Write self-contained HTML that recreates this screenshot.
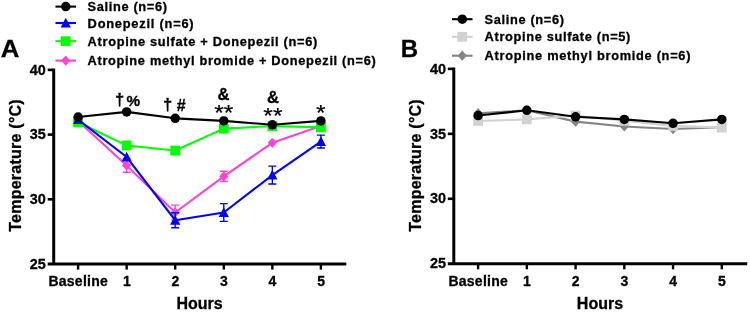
<!DOCTYPE html>
<html lang="en"><head><meta charset="utf-8"><title>Temperature</title>
<style>html,body{margin:0;padding:0;background:#fff}svg{display:block;will-change:transform}text{font-family:'Liberation Sans', Arial, Helvetica, sans-serif;font-weight:bold;fill:#000;stroke:#000;stroke-width:.3px}.ast{font-weight:normal;stroke-width:.22px}</style>
</head><body>
<svg width="750" height="312" viewBox="0 0 750 312">
<rect width="750" height="312" fill="#fff"/>
<g id="panelA">
<path d="M53.7 68.60V264.00" stroke="#000" stroke-width="3" fill="none"/>
<path d="M47.7 264.00H346.3" stroke="#000" stroke-width="3" fill="none"/>
<path d="M47.7 69.90H53.7" stroke="#000" stroke-width="2.6"/>
<text x="45.800000000000004" y="74.60" text-anchor="end" font-size="14.4">40</text>
<path d="M47.7 134.60H53.7" stroke="#000" stroke-width="2.6"/>
<text x="45.800000000000004" y="139.30" text-anchor="end" font-size="14.4">35</text>
<path d="M47.7 199.30H53.7" stroke="#000" stroke-width="2.6"/>
<text x="45.800000000000004" y="204.00" text-anchor="end" font-size="14.4">30</text>
<text x="45.800000000000004" y="268.70" text-anchor="end" font-size="14.4">25</text>
<path d="M78.10 264.00V269.60" stroke="#000" stroke-width="2.4"/>
<text x="78.25" y="285.7" text-anchor="middle" font-size="14" letter-spacing="0.26">Baseline</text>
<path d="M126.66 264.00V269.60" stroke="#000" stroke-width="2.4"/>
<text x="126.81" y="285.7" text-anchor="middle" font-size="14" letter-spacing="0">1</text>
<path d="M175.22 264.00V269.60" stroke="#000" stroke-width="2.4"/>
<text x="175.37" y="285.7" text-anchor="middle" font-size="14" letter-spacing="0">2</text>
<path d="M223.78 264.00V269.60" stroke="#000" stroke-width="2.4"/>
<text x="223.93" y="285.7" text-anchor="middle" font-size="14" letter-spacing="0">3</text>
<path d="M272.34 264.00V269.60" stroke="#000" stroke-width="2.4"/>
<text x="272.49" y="285.7" text-anchor="middle" font-size="14" letter-spacing="0">4</text>
<path d="M320.90 264.00V269.60" stroke="#000" stroke-width="2.4"/>
<text x="321.05" y="285.7" text-anchor="middle" font-size="14" letter-spacing="0">5</text>
<text x="199.50" y="309" text-anchor="middle" font-size="16">Hours</text>
<text transform="translate(21.3 165.4) rotate(-90)" text-anchor="middle" font-size="16" letter-spacing=".24">Temperature (°C)</text>
<path d="M126.66 158.58V172.25M122.66 158.58H130.66M122.66 172.25H130.66" stroke="#f944d4" stroke-width="1.35" fill="none"/>
<path d="M175.22 205.15V219.85M171.22 205.15H179.22M171.22 219.85H179.22" stroke="#f944d4" stroke-width="1.35" fill="none"/>
<path d="M223.78 171.22V181.54M219.78 171.22H227.78M219.78 181.54H227.78" stroke="#f944d4" stroke-width="1.35" fill="none"/>
<polyline points="78.10,120.91 126.66,165.42 175.22,212.50 223.78,176.38 272.34,142.84 320.90,126.07" fill="none" stroke="#f944d4" stroke-width="2.1" stroke-linejoin="round"/>
<path d="M78.10 115.81L82.70 120.91L78.10 126.01L73.50 120.91Z" fill="#f944d4"/>
<path d="M126.66 160.32L131.26 165.42L126.66 170.52L122.06 165.42Z" fill="#f944d4"/>
<path d="M175.22 207.40L179.82 212.50L175.22 217.60L170.62 212.50Z" fill="#f944d4"/>
<path d="M223.78 171.28L228.38 176.38L223.78 181.48L219.18 176.38Z" fill="#f944d4"/>
<path d="M272.34 137.74L276.94 142.84L272.34 147.94L267.74 142.84Z" fill="#f944d4"/>
<path d="M320.90 120.97L325.50 126.07L320.90 131.17L316.30 126.07Z" fill="#f944d4"/>
<polyline points="78.10,122.20 126.66,145.42 175.22,150.58 223.78,128.65 272.34,126.07 320.90,127.36" fill="none" stroke="#00ff00" stroke-width="2.1" stroke-linejoin="round"/>
<rect x="73.20" y="117.30" width="9.8" height="9.8" fill="#00ff00"/>
<rect x="121.76" y="140.52" width="9.8" height="9.8" fill="#00ff00"/>
<rect x="170.32" y="145.68" width="9.8" height="9.8" fill="#00ff00"/>
<rect x="218.88" y="123.75" width="9.8" height="9.8" fill="#00ff00"/>
<rect x="267.44" y="121.17" width="9.8" height="9.8" fill="#00ff00"/>
<rect x="316.00" y="122.46" width="9.8" height="9.8" fill="#00ff00"/>
<path d="M175.22 212.76V227.72M171.22 212.76H179.22M171.22 227.72H179.22" stroke="#0000ff" stroke-width="1.35" fill="none"/>
<path d="M223.78 203.60V221.40M219.78 203.60H227.78M219.78 221.40H227.78" stroke="#0000ff" stroke-width="1.35" fill="none"/>
<path d="M272.34 166.19V183.99M268.34 166.19H276.34M268.34 183.99H276.34" stroke="#0000ff" stroke-width="1.35" fill="none"/>
<path d="M320.90 135.10V148.00M316.90 135.10H324.90M316.90 148.00H324.90" stroke="#0000ff" stroke-width="1.35" fill="none"/>
<polyline points="78.10,119.62 126.66,157.03 175.22,220.24 223.78,212.50 272.34,175.09 320.90,141.55" fill="none" stroke="#0000ff" stroke-width="2.1" stroke-linejoin="round"/>
<path d="M78.10 114.32L83.20 124.12H73.00Z" fill="#0000ff"/>
<path d="M126.66 151.73L131.76 161.53H121.56Z" fill="#0000ff"/>
<path d="M175.22 214.94L180.32 224.74H170.12Z" fill="#0000ff"/>
<path d="M223.78 207.20L228.88 217.00H218.68Z" fill="#0000ff"/>
<path d="M272.34 169.79L277.44 179.59H267.24Z" fill="#0000ff"/>
<path d="M320.90 136.25L326.00 146.05H315.80Z" fill="#0000ff"/>
<polyline points="78.10,117.04 126.66,111.88 175.22,118.33 223.78,120.91 272.34,124.78 320.90,120.91" fill="none" stroke="#000" stroke-width="2.1" stroke-linejoin="round"/>
<circle cx="78.10" cy="117.04" r="4.75" fill="#000"/>
<circle cx="126.66" cy="111.88" r="4.75" fill="#000"/>
<circle cx="175.22" cy="118.33" r="4.75" fill="#000"/>
<circle cx="223.78" cy="120.91" r="4.75" fill="#000"/>
<circle cx="272.34" cy="124.78" r="4.75" fill="#000"/>
<circle cx="320.90" cy="120.91" r="4.75" fill="#000"/>
<path d="M55.5 6.6H76" stroke="#000" stroke-width="2.1"/>
<circle cx="65.75" cy="6.60" r="4.75" fill="#000"/>
<text x="87.6" y="10.80" font-size="12.8" letter-spacing="0.65">Saline (n=6)</text>
<path d="M55.5 23.0H76" stroke="#0000ff" stroke-width="2.1"/>
<path d="M65.75 17.70L70.85 27.50H60.65Z" fill="#0000ff"/>
<text x="87.6" y="28.00" font-size="12.8" letter-spacing="0.79">Donepezil (n=6)</text>
<path d="M55.5 41.2H76" stroke="#00ff00" stroke-width="2.1"/>
<rect x="60.85" y="36.30" width="9.8" height="9.8" fill="#00ff00"/>
<text x="87.6" y="45.60" font-size="12.8" letter-spacing="0.69">Atropine sulfate + Donepezil (n=6)</text>
<path d="M55.5 60.6H76" stroke="#f944d4" stroke-width="2.1"/>
<path d="M65.75 55.50L70.35 60.60L65.75 65.70L61.15 60.60Z" fill="#f944d4"/>
<text x="87.6" y="65.00" font-size="12.8" letter-spacing="0.68">Atropine methyl bromide + Donepezil (n=6)</text>
<text transform="translate(0.7 57) scale(1.04 1)" font-size="24.8">A</text>
<text x="115" y="104.8" font-size="16.6">†</text><text x="126.6" y="106" font-size="15.3">%</text>
<text x="163.1" y="110" font-size="16.6">†</text><text x="176.7" y="110.6" font-size="16">#</text>
<text x="223.6" y="99.6" font-size="16.6" text-anchor="middle">&amp;</text>
<text class="ast" transform="translate(223.8 119.7) scale(1 .88)" font-size="24.6" text-anchor="middle">**</text>
<text x="273.1" y="102.8" font-size="16.6" text-anchor="middle">&amp;</text>
<text class="ast" transform="translate(272.9 122.6) scale(1 .88)" font-size="24.6" text-anchor="middle">**</text>
<text class="ast" transform="translate(320.9 119.7) scale(1 .88)" font-size="24.6" text-anchor="middle">*</text>
</g>
<g id="panelB">
<path d="M453.8 67.60V263.71" stroke="#000" stroke-width="3" fill="none"/>
<path d="M447.8 263.71H747.2" stroke="#000" stroke-width="3" fill="none"/>
<path d="M447.8 68.90H453.8" stroke="#000" stroke-width="2.6"/>
<text x="445.90000000000003" y="73.60" text-anchor="end" font-size="14.4">40</text>
<path d="M447.8 133.84H453.8" stroke="#000" stroke-width="2.6"/>
<text x="445.90000000000003" y="138.53" text-anchor="end" font-size="14.4">35</text>
<path d="M447.8 198.77H453.8" stroke="#000" stroke-width="2.6"/>
<text x="445.90000000000003" y="203.47" text-anchor="end" font-size="14.4">30</text>
<text x="445.90000000000003" y="268.41" text-anchor="end" font-size="14.4">25</text>
<path d="M478.10 263.71V269.31" stroke="#000" stroke-width="2.4"/>
<text x="478.25" y="285.7" text-anchor="middle" font-size="14" letter-spacing="0.26">Baseline</text>
<path d="M526.84 263.71V269.31" stroke="#000" stroke-width="2.4"/>
<text x="526.99" y="285.7" text-anchor="middle" font-size="14" letter-spacing="0">1</text>
<path d="M575.58 263.71V269.31" stroke="#000" stroke-width="2.4"/>
<text x="575.73" y="285.7" text-anchor="middle" font-size="14" letter-spacing="0">2</text>
<path d="M624.32 263.71V269.31" stroke="#000" stroke-width="2.4"/>
<text x="624.47" y="285.7" text-anchor="middle" font-size="14" letter-spacing="0">3</text>
<path d="M673.06 263.71V269.31" stroke="#000" stroke-width="2.4"/>
<text x="673.21" y="285.7" text-anchor="middle" font-size="14" letter-spacing="0">4</text>
<path d="M721.80 263.71V269.31" stroke="#000" stroke-width="2.4"/>
<text x="721.95" y="285.7" text-anchor="middle" font-size="14" letter-spacing="0">5</text>
<text x="599.95" y="309" text-anchor="middle" font-size="16">Hours</text>
<text transform="translate(421.3 165.4) rotate(-90)" text-anchor="middle" font-size="16" letter-spacing=".24">Temperature (°C)</text>
<polyline points="478.10,113.19 526.84,110.33 575.58,121.63 624.32,126.44 673.06,129.04 721.80,127.22" fill="none" stroke="#858585" stroke-width="2.1" stroke-linejoin="round"/>
<path d="M478.10 108.09L482.70 113.19L478.10 118.29L473.50 113.19Z" fill="#858585"/>
<path d="M526.84 105.23L531.44 110.33L526.84 115.43L522.24 110.33Z" fill="#858585"/>
<path d="M575.58 116.53L580.18 121.63L575.58 126.73L570.98 121.63Z" fill="#858585"/>
<path d="M624.32 121.34L628.92 126.44L624.32 131.54L619.72 126.44Z" fill="#858585"/>
<path d="M673.06 123.94L677.66 129.04L673.06 134.14L668.46 129.04Z" fill="#858585"/>
<path d="M721.80 122.12L726.40 127.22L721.80 132.32L717.20 127.22Z" fill="#858585"/>
<polyline points="478.10,120.98 526.84,119.42 575.58,115.52 624.32,120.72 673.06,125.92 721.80,127.61" fill="none" stroke="#d2d2d2" stroke-width="2.1" stroke-linejoin="round"/>
<rect x="473.20" y="116.08" width="9.8" height="9.8" fill="#d2d2d2"/>
<rect x="521.94" y="114.52" width="9.8" height="9.8" fill="#d2d2d2"/>
<rect x="570.68" y="110.62" width="9.8" height="9.8" fill="#d2d2d2"/>
<rect x="619.42" y="115.82" width="9.8" height="9.8" fill="#d2d2d2"/>
<rect x="668.16" y="121.02" width="9.8" height="9.8" fill="#d2d2d2"/>
<rect x="716.90" y="122.71" width="9.8" height="9.8" fill="#d2d2d2"/>
<polyline points="478.10,115.52 526.84,110.33 575.58,116.82 624.32,119.42 673.06,123.32 721.80,119.42" fill="none" stroke="#000" stroke-width="2.1" stroke-linejoin="round"/>
<circle cx="478.10" cy="115.52" r="4.75" fill="#000"/>
<circle cx="526.84" cy="110.33" r="4.75" fill="#000"/>
<circle cx="575.58" cy="116.82" r="4.75" fill="#000"/>
<circle cx="624.32" cy="119.42" r="4.75" fill="#000"/>
<circle cx="673.06" cy="123.32" r="4.75" fill="#000"/>
<circle cx="721.80" cy="119.42" r="4.75" fill="#000"/>
<path d="M452 19.2H472.5" stroke="#000" stroke-width="2.1"/>
<circle cx="462.25" cy="19.20" r="4.75" fill="#000"/>
<text x="484.6" y="23.60" font-size="12.8" letter-spacing="0.65">Saline (n=6)</text>
<path d="M452 36.8H472.5" stroke="#d2d2d2" stroke-width="2.1"/>
<rect x="457.35" y="31.90" width="9.8" height="9.8" fill="#d2d2d2"/>
<text x="484.6" y="40.90" font-size="12.8" letter-spacing="0.66">Atropine sulfate (n=5)</text>
<path d="M452 55.7H472.5" stroke="#858585" stroke-width="2.1"/>
<path d="M462.25 50.60L466.85 55.70L462.25 60.80L457.65 55.70Z" fill="#858585"/>
<text x="484.6" y="60.10" font-size="12.8" letter-spacing="0.71">Atropine methyl bromide (n=6)</text>
<text x="400.8" y="56.8" font-size="24">B</text>
</g>
</svg></body></html>
